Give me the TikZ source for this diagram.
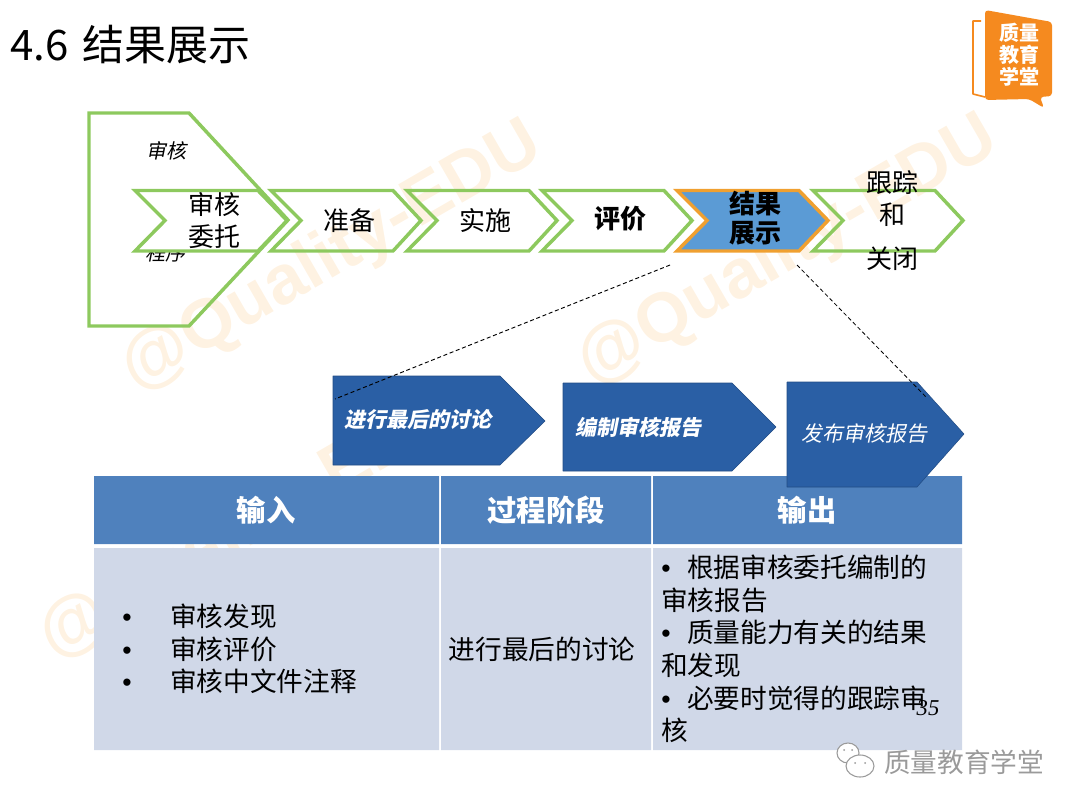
\documentclass[tikz,border=0pt]{standalone}
\usepackage{fontspec}
\usepackage{tikz}
\usetikzlibrary{calc}
\setmainfont{Noto Sans CJK SC}
\newfontfamily\slantfont[FakeSlant=0.2]{Noto Sans CJK SC}
\newfontfamily\markfont{Liberation Sans}
\newfontfamily\pagefont{Liberation Serif}
\definecolor{chevgreen}{HTML}{8DC95E}
\definecolor{resorange}{HTML}{F0A030}
\definecolor{resblue}{HTML}{5B9BD5}
\definecolor{stepblue}{HTML}{2A5FA5}
\definecolor{headblue}{HTML}{4F81BD}
\definecolor{cellblue}{HTML}{D0D8E8}
\definecolor{markcol}{HTML}{FEF2E2}
\definecolor{logocol}{HTML}{F58A1F}
\definecolor{footgray}{HTML}{9A9A9A}
\newcommand{\blt}[1]{\makebox[#1][l]{\markfont •}}
\tikzset{
  chevbox/.style={draw=chevgreen, line width=2.6pt, line join=miter},
  chevtxt/.style={font=\fontsize{19.5}{23}\selectfont, align=center, inner sep=0pt},
  stepbox/.style={fill=stepblue, draw=stepblue!80!black, line width=0.4pt},
  steptxt/.style={font=\fontsize{15.75}{18}\slantfont\bfseries, text=white, inner sep=0pt},
  headtxt/.style={font=\fontsize{22}{25}\selectfont\bfseries, text=white, inner sep=0pt},
  celltxt/.style={font=\fontsize{20}{24.4}\selectfont, align=left, inner sep=0pt},
  marktxt/.style={font=\fontsize{52}{52}\markfont\bfseries, text=markcol, rotate=30, inner sep=0pt},
}
\begin{document}
\begin{tikzpicture}[x=0.75pt, y=-0.75pt, line join=round]
  \useasboundingbox (0,0) rectangle (1080,810);
  \node[marktxt] (markone) at (332,258) {@Quality-EDU};
  \node[marktxt] (marktwo) at (788,252) {@Quality-EDU};
  \node[marktxt] (markthree) at (250,526) {@Quality-EDU};
  \node[anchor=west, inner sep=0pt, font=\fontsize{31.5}{36}\selectfont] (title) at (10,45) {4.6\hspace{3.5pt} 结果展示};
  % logo
  \draw[logocol, line width=1.2pt] (981,21) -- (973,21) -- (973,94) -- (985,97);
  \fill[logocol, rounded corners=2.5pt] (985,10) -- (1052,22) -- (1052,96) -- (1040,97) -- (1044,108) -- (1029,99) -- (985,100) -- cycle;
  \node[align=center, inner sep=0pt, text=white, font=\fontsize{15}{16.5}\selectfont\bfseries] (logo) at (1019,55) {质量\\教育\\学堂};
  % top row
  \draw[chevbox] (89,113) -- (189,113) -- (288,220) -- (189,326) -- (89,326) -- cycle;
  \node[font=\fontsize{15}{18}\slantfont, inner sep=0pt] (audit) at (166,151) {审核};
  \node[font=\fontsize{15}{18}\slantfont, inner sep=0pt] (proc) at (165,253) {程序};
  \draw[chevbox, fill=white] (135,190.5) -- (258,190.5) -- (287,220.5) -- (258,251) -- (135,251) -- (165,220.5) -- cycle;
  \foreach \x in {271,407,542,813}{
    \draw[chevbox] (\x,190.5) -- (\x+122,190.5) -- (\x+150,220.5) -- (\x+122,251) -- (\x,251) -- (\x+30,220.5) -- cycle;
  }
  \draw[draw=resorange, fill=resblue, line width=2.6pt, line join=miter] (677,190.5) -- (799,190.5) -- (828,220.5) -- (799,251) -- (677,251) -- (707,220.5) -- cycle;
  \node[chevtxt] (entrust) at (214,221) {审核\\[1pt]委托};
  \node[chevtxt] (prepare) at (349,221) {准备};
  \node[chevtxt] (perform) at (485,221) {实施};
  \node[chevtxt, font=\fontsize{19.5}{23}\selectfont\bfseries] (assess) at (620,219) {评价};
  \node[chevtxt, font=\fontsize{19.5}{22}\selectfont\bfseries] (result) at (755,218) {结果\\展示};
  \node[chevtxt] (follow) at (892,221) {跟踪\\[1pt]和\\[10pt]关闭};
  % table
  \fill[headblue] (94,476) rectangle (439,544) (441,476) rectangle (651,544) (653,476) rectangle (962,544);
  \fill[cellblue] (94,548) rectangle (439,750) (441,548) rectangle (651,750) (653,548) rectangle (962,750);
  \node[headtxt] (inhead) at (266,510) {输入};
  \node[headtxt] (stagehead) at (546,510) {过程阶段};
  \node[headtxt] (outhead) at (807,510) {输出};
  \node[celltxt, anchor=west] (incell) at (122,649) {\blt{36pt}审核发现\\\blt{36pt}审核评价\\\blt{36pt}审核中文件注释};
  \node[celltxt] (stagecell) at (542,649) {进行最后的讨论};
  \node[celltxt, anchor=west] (outcell) at (661,649) {\blt{19.5pt}根据审核委托编制的\\审核报告\\\blt{19.5pt}质量能力有关的结果\\和发现\\\blt{19.5pt}必要时觉得的跟踪审\\核};
  \node[inner sep=0pt, font=\fontsize{17}{20}\pagefont\itshape] (pagenum) at (928,708) {35};
  % process steps
  \draw[stepbox] (333,376) -- (500,376) -- (545,421) -- (500,465) -- (333,465) -- cycle;
  \draw[stepbox] (563,383) -- (732,383) -- (776,427) -- (732,471) -- (563,471) -- cycle;
  \draw[stepbox] (787,382) -- (917,382) -- (964,434) -- (917,487) -- (787,487) -- cycle;
  \node[steptxt] (discuss) at (418,420) {进行最后的讨论};
  \node[steptxt] (compile) at (638,427) {编制审核报告};
  \node[steptxt, font=\fontsize{15.75}{18}\slantfont] (publish) at (864,434) {发布审核报告};
  \coordinate (resleft) at (670,265);
  \coordinate (resright) at (797,265);
  \coordinate (stepleft) at (335,399);
  \coordinate (stepright) at (927,398);
  \draw[dash pattern=on 3pt off 2pt, line width=0.7pt] (resleft) -- (stepleft);
  \draw[densely dashed, line width=0.6pt] (resright) -- (stepright);
  % footer
  \draw[footgray, line width=0.8pt, fill=white] (848,753) ellipse (11 and 10);
  \draw[footgray, line width=0.8pt, fill=white] (860,766) ellipse (14 and 11);
  \fill[footgray] (844,750) circle (1) (852,750) circle (1) (855,763) circle (1) (865,763) circle (1);
  \node[anchor=west, inner sep=0pt, text=footgray, font=\fontsize{20}{24}\selectfont] (foot) at (884,762) {质量教育学堂};
\end{tikzpicture}
\end{document}
